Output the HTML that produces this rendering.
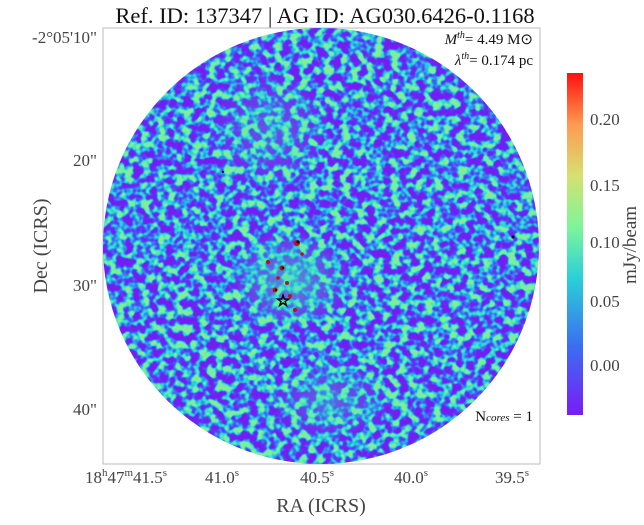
<!DOCTYPE html>
<html><head><meta charset="utf-8"><style>
body{margin:0;background:#fff;}
svg text{font-family:"Liberation Serif",serif;fill:#444;}
</style></head><body>
<svg width="644" height="520" xmlns="http://www.w3.org/2000/svg">
<defs>
<filter id="nz" x="0" y="0" width="100%" height="100%" color-interpolation-filters="sRGB">
<feTurbulence type="fractalNoise" baseFrequency="0.12" numOctaves="2" seed="7" result="t"/>
<feColorMatrix in="t" type="matrix" values="3 0 0 0 -1.0  3 0 0 0 -1.0  3 0 0 0 -1.0  0 0 0 0 1"/>
<feComponentTransfer>
<feFuncR type="table" tableValues="0.45 0.45 0.32 0.22 0.15 0.25 0.5"/>
<feFuncG type="table" tableValues="0.12 0.14 0.28 0.5 0.78 0.9 0.93"/>
<feFuncB type="table" tableValues="0.95 0.96 0.96 0.95 0.88 0.78 0.6"/>
</feComponentTransfer>
</filter>
<clipPath id="cc"><circle cx="321" cy="246" r="218"/></clipPath>
<radialGradient id="mid" cx="0.5" cy="0.5" r="0.5">
<stop offset="0" stop-color="#40e0c0" stop-opacity="0.6"/>
<stop offset="1" stop-color="#40e0c0" stop-opacity="0"/>
</radialGradient>
<linearGradient id="cb" x1="0" y1="1" x2="0" y2="0">
<stop offset="0" stop-color="#7a1cf6"/>
<stop offset="0.2" stop-color="#3a6ef0"/>
<stop offset="0.4" stop-color="#2ad0d8"/>
<stop offset="0.55" stop-color="#7ef59a"/>
<stop offset="0.7" stop-color="#d6e070"/>
<stop offset="0.85" stop-color="#ff9a50"/>
<stop offset="1" stop-color="#ff1010"/>
</linearGradient>
</defs>
<text x="325" y="23" font-size="22.5" text-anchor="middle" style="fill:#111">Ref. ID: 137347 | AG ID: AG030.6426-0.1168</text>
<rect x="103" y="28" width="437" height="436" fill="#fff" stroke="#bbb" stroke-width="1"/>
<g clip-path="url(#cc)">
<rect x="100" y="25" width="445" height="445" filter="url(#nz)"/>
<ellipse cx="290" cy="280" rx="60" ry="50" fill="url(#mid)"/>
<ellipse cx="330" cy="400" rx="60" ry="40" fill="url(#mid)" opacity="0.6"/>
<ellipse cx="270" cy="130" rx="60" ry="60" fill="url(#mid)" opacity="0.5"/>
<g fill="#c01010">
<circle cx="297" cy="243" r="3"/><circle cx="282" cy="268" r="2.5"/><circle cx="275" cy="290" r="2.5"/>
<circle cx="287" cy="283" r="2"/><circle cx="268" cy="262" r="2"/><circle cx="295" cy="310" r="2"/>
<circle cx="290" cy="296" r="2"/><circle cx="302" cy="254" r="1.8"/><circle cx="278" cy="278" r="1.8"/>
</g>
<g fill="#000"><circle cx="298" cy="242" r="1.5"/><circle cx="283" cy="268" r="1.2"/><circle cx="276" cy="290" r="1.2"/><circle cx="513" cy="237" r="1.5"/><circle cx="223" cy="172" r="1"/></g>
<text x="283" y="306" font-size="16" text-anchor="middle" style="fill:none;stroke:#000;stroke-width:1">☆</text>
</g>
<text x="533" y="44" font-size="15" text-anchor="end" style="fill:#111"><tspan font-style="italic">M</tspan><tspan font-size="10" dy="-6" font-style="italic">th</tspan><tspan dy="6">= 4.49 M⊙</tspan></text>
<text x="533" y="65" font-size="15" text-anchor="end" style="fill:#111"><tspan font-style="italic">λ</tspan><tspan font-size="10" dy="-6" font-style="italic">th</tspan><tspan dy="6">= 0.174 pc</tspan></text>
<text x="533" y="421" font-size="15" text-anchor="end" style="fill:#111">N<tspan font-size="11" font-style="italic">cores</tspan> = 1</text>
<g font-size="17" text-anchor="end">
<text x="97" y="43">-2°05'10"</text>
<text x="97" y="166">20"</text>
<text x="97" y="291">30"</text>
<text x="97" y="415">40"</text>
</g>
<g font-size="17" text-anchor="middle">
<text x="126" y="483">18<tspan font-size="11" dy="-7">h</tspan><tspan dy="7">47</tspan><tspan font-size="11" dy="-7">m</tspan><tspan dy="7">41.5</tspan><tspan font-size="11" dy="-7">s</tspan></text>
<text x="222" y="483">41.0<tspan font-size="11" dy="-7">s</tspan></text>
<text x="317" y="483">40.5<tspan font-size="11" dy="-7">s</tspan></text>
<text x="411" y="483">40.0<tspan font-size="11" dy="-7">s</tspan></text>
<text x="512" y="483">39.5<tspan font-size="11" dy="-7">s</tspan></text>
</g>
<text x="321" y="512" font-size="20" text-anchor="middle">RA (ICRS)</text>
<text x="0" y="0" font-size="20" text-anchor="middle" transform="translate(47,246) rotate(-90)">Dec (ICRS)</text>
<rect x="567" y="73" width="16" height="342" fill="url(#cb)"/>
<g font-size="17">
<text x="590" y="125">0.20</text>
<text x="590" y="191">0.15</text>
<text x="590" y="248">0.10</text>
<text x="590" y="307">0.05</text>
<text x="590" y="371">0.00</text>
</g>
<text x="0" y="0" font-size="19" text-anchor="middle" transform="translate(636,245) rotate(-90)">mJy/beam</text>
</svg>
</body></html>
